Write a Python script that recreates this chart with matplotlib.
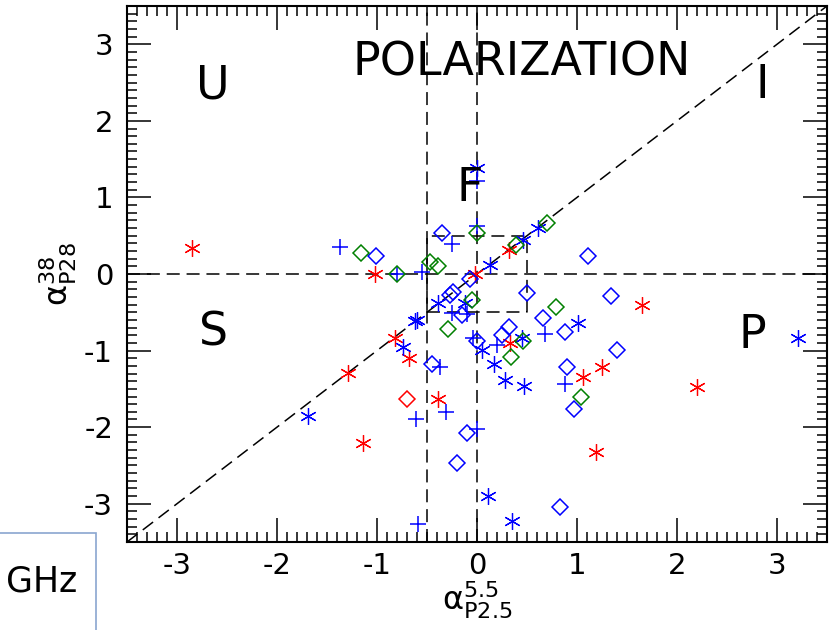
import matplotlib
matplotlib.use("Agg")
import matplotlib.pyplot as plt
from matplotlib.ticker import MultipleLocator
from matplotlib.patches import Rectangle

plt.rcParams['font.family'] = ['DejaVu Sans']
plt.rcParams['mathtext.fontset'] = 'dejavusans'
plt.rcParams['axes.unicode_minus'] = False

# ---- data ----
red_star_x = [-2.85, -1.02, -0.02, 0.32, 1.65, 0.33, -0.82, -0.68, 1.25, 1.06, 2.20, 1.19, -0.39, -1.29, -1.14]
red_star_y = [0.34, 0.0, 0.0, 0.31, -0.40, -0.90, -0.84, -1.10, -1.22, -1.34, -1.48, -2.33, -1.63, -1.29, -2.21]

red_diam_x = [-0.70]
red_diam_y = [-1.63]

blue_star_x = [0.0, 0.13, 0.46, 0.61, 1.01, -0.39, -0.12, -0.60, -0.62, -0.74, 0.05, 0.17, 0.45, 3.21, 0.28, 0.47, 0.11, 0.35, -1.69]
blue_star_y = [1.38, 0.12, 0.45, 0.60, -0.64, -0.38, -0.38, -0.60, -0.62, -0.95, -0.99, -1.17, -0.84, -0.84, -1.38, -1.46, -2.90, -3.22, -1.85]

blue_plus_x = [-1.37, -0.80, -0.55, -0.25, 0.0, 0.0, -0.25, -0.10, -0.04, 0.20, -0.37, 0.68, 0.88, 0.0, -0.31, -0.61, -0.59]
blue_plus_y = [0.35, 0.0, 0.03, 0.39, 0.63, 1.22, -0.51, -0.52, -0.84, -0.93, -1.22, -0.78, -1.44, -2.03, -1.80, -1.89, -3.27]

blue_diam_x = [-1.01, -0.35, -0.07, -0.27, -0.24, -0.15, 1.11, 0.50, 1.34, 0.66, 0.88, 0.32, 0.25, 0.0, -0.45, 1.40, 0.90, 0.97, 0.83, -0.10, -0.20]
blue_diam_y = [0.235, 0.53, -0.06, -0.27, -0.23, -0.54, 0.23, -0.25, -0.29, -0.57, -0.76, -0.69, -0.80, -0.87, -1.17, -0.99, -1.22, -1.76, -3.04, -2.07, -2.47]

green_diam_x = [-1.16, -0.80, -0.47, -0.39, 0.0, 0.39, 0.70, 0.79, -0.05, -0.29, 0.46, 0.34, 1.04]
green_diam_y = [0.27, 0.0, 0.16, 0.10, 0.53, 0.38, 0.67, -0.43, -0.34, -0.72, -0.87, -1.09, -1.60]

region_labels = ['U', 'I', 'F', 'S', 'P']
region_x = [-2.64, 2.85, -0.07, -2.64, 2.75]
region_y = [2.46, 2.46, 1.12, -0.77, -0.80]

title_text = 'POLARIZATION'

# ---- figure ----
fig = plt.figure(figsize=(8.4, 6.3), dpi=100)
ax = fig.add_axes([127/840, 1-542/630, 700/840, 536/630])
ax.set_xlim(-3.5, 3.5)
ax.set_ylim(-3.5, 3.5)

dash_kw = dict(color='black', lw=1.1, dashes=(8.5, 4.5), zorder=1)
ax.axhline(0, **dash_kw)
ax.axvline(0, **dash_kw)
ax.axvline(-0.5, **dash_kw)
ax.plot([-3.5, 3.5], [-3.5, 3.5], **dash_kw)
ax.plot([-0.5, 0.5, 0.5, -0.5, -0.5], [-0.5, -0.5, 0.5, 0.5, -0.5], **dash_kw)

ast = (6, 2, 0)
ax.plot(red_star_x, red_star_y, ls='none', marker=ast, ms=12, mew=0.9, color='red', zorder=3)
ax.plot(blue_star_x, blue_star_y, ls='none', marker=ast, ms=12, mew=0.9, color='blue', zorder=3)
ax.plot(blue_plus_x, blue_plus_y, ls='none', marker='+', ms=11, mew=1.1, color='blue', zorder=3)
ax.plot(blue_diam_x, blue_diam_y, ls='none', marker='D', ms=7.8, mew=1.1, mfc='none', mec='blue', zorder=3)
ax.plot(green_diam_x, green_diam_y, ls='none', marker='D', ms=7.8, mew=1.1, mfc='none', mec='green', zorder=3)
ax.plot(red_diam_x, red_diam_y, ls='none', marker='D', ms=7.8, mew=1.1, mfc='none', mec='red', zorder=3)

for lab, x, y in zip(region_labels, region_x, region_y):
    ax.text(x, y, lab, fontsize=33, ha='center', va='center', zorder=4)
ax.text(0.564, 0.894, title_text, transform=ax.transAxes, fontsize=33, ha='center', va='center', zorder=4)

ax.xaxis.set_major_locator(MultipleLocator(1))
ax.yaxis.set_major_locator(MultipleLocator(1))
ax.xaxis.set_minor_locator(MultipleLocator(0.1))
ax.yaxis.set_minor_locator(MultipleLocator(0.1))
ax.tick_params(which='both', direction='in', top=True, right=True, width=1.1)
ax.tick_params(which='major', length=17, labelsize=21)
ax.tick_params(axis='x', which='major', pad=7)
ax.tick_params(axis='y', which='major', pad=10)
ax.tick_params(which='minor', length=7)
for s in ax.spines.values():
    s.set_linewidth(1.5)

ax.set_xlabel(r'$\mathrm{\alpha}_{\rm P2.5}^{5.5}$', fontsize=23, labelpad=0)
ax.set_ylabel(r'$\mathrm{\alpha}_{\rm P28}^{38}$', fontsize=23, labelpad=4)

# cropped overlay box at lower-left
fig.patches.append(Rectangle((-0.01, -0.01), 96/840 + 0.01, (630-533)/630 + 0.01,
                             transform=fig.transFigure, fill=True, facecolor='white',
                             edgecolor='#8aa6cf', lw=1.2, zorder=10))
fig.text(42/840, 1-582/630, 'GHz', fontsize=25, ha='center', va='center', zorder=11)

fig.savefig('out.png', dpi=100)
